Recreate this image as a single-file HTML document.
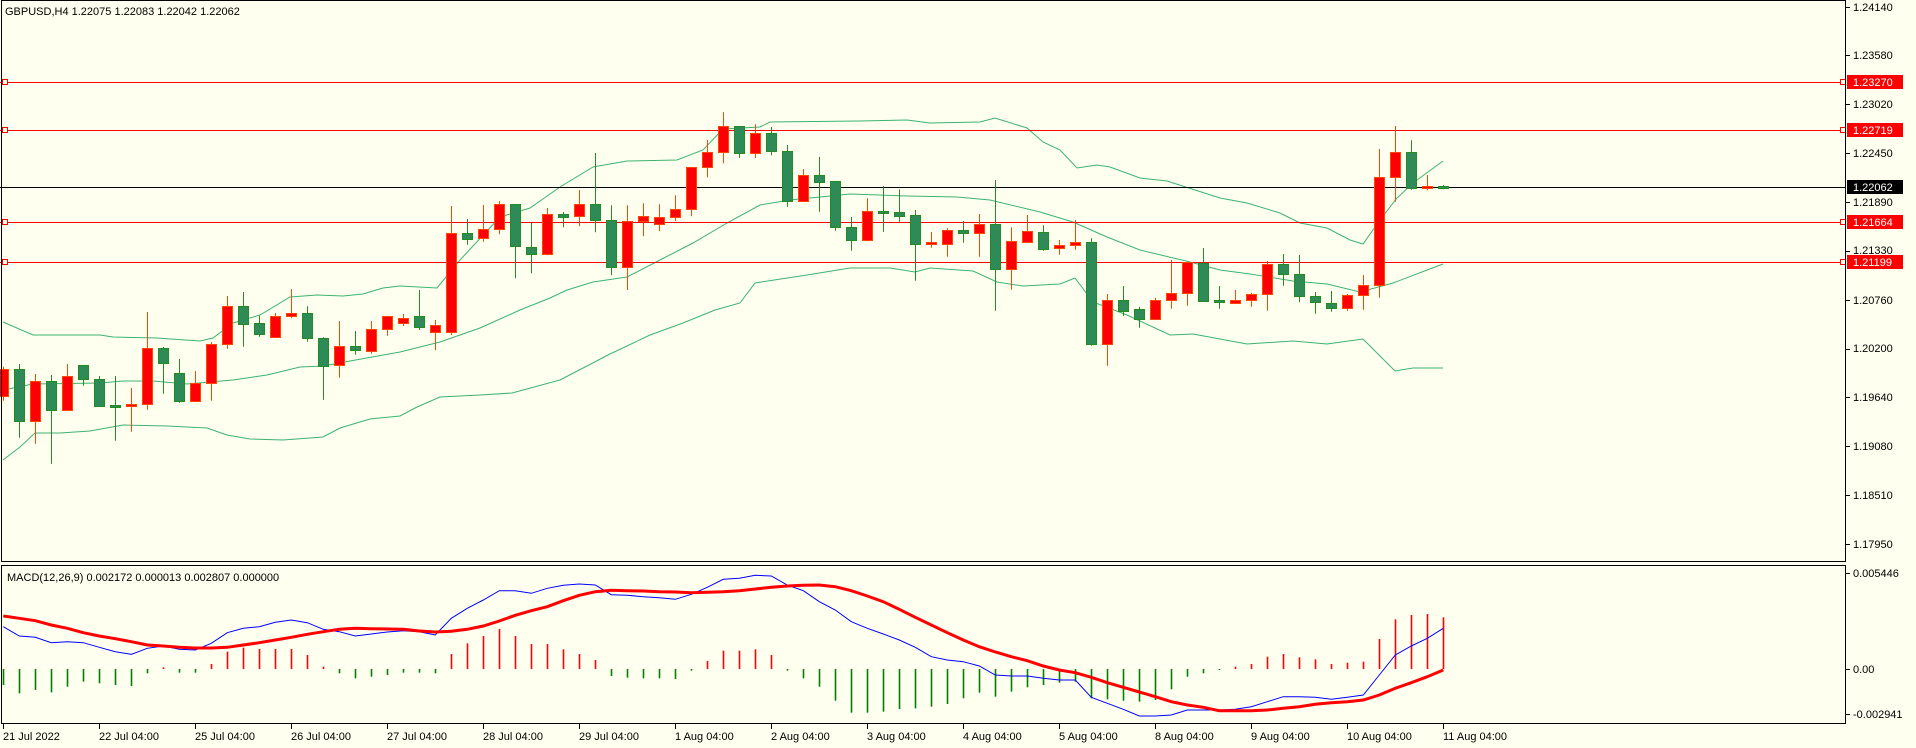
<!DOCTYPE html>
<html><head><meta charset="utf-8"><style>
html,body{margin:0;padding:0;background:#fffff0;}
svg{display:block;font-family:"Liberation Sans",sans-serif;}
</style></head><body>
<svg id="c" width="1916" height="748" xmlns="http://www.w3.org/2000/svg">
<rect x="0" y="0" width="1916" height="748" fill="#fffff0"/>
<g id="bb" fill="none" stroke="#3cb371" stroke-width="1"></g>
<g id="hl"></g>
<g id="cd"></g>
<g id="mc"></g>
<!-- frames -->
<rect x="1.5" y="0.5" width="1844" height="561" fill="none" stroke="#000" stroke-width="1"/>
<rect x="1.5" y="565.5" width="1844" height="158" fill="none" stroke="#000" stroke-width="1"/>
<g font-size="11" fill="#000">
<text x="5" y="15">GBPUSD,H4  1.22075 1.22083 1.22042 1.22062</text>
<text x="7" y="581">MACD(12,26,9) 0.002172 0.000013 0.002807 0.000000</text>
</g>
<g font-size="11" fill="#000" id="ax">
<text x="1853" y="11">1.24140</text>
<text x="1853" y="59">1.23580</text>
<text x="1853" y="108">1.23020</text>
<text x="1853" y="157">1.22450</text>
<text x="1853" y="206">1.21890</text>
<text x="1853" y="254">1.21330</text>
<text x="1853" y="304">1.20760</text>
<text x="1853" y="352">1.20200</text>
<text x="1853" y="401">1.19640</text>
<text x="1853" y="450">1.19080</text>
<text x="1853" y="499">1.18510</text>
<text x="1853" y="548">1.17950</text>
<text x="1853" y="577">0.005446</text>
<text x="1853" y="673">0.00</text>
<text x="1853" y="718">-0.002941</text>
</g>
<g font-size="11">
<rect x="1847" y="75" width="56" height="14" fill="#ff0000"/><text x="1853" y="86" fill="#fff">1.23270</text>
<rect x="1847" y="123" width="56" height="14" fill="#ff0000"/><text x="1853" y="134" fill="#fff">1.22719</text>
<rect x="1847" y="180" width="56" height="14" fill="#000"/><text x="1853" y="191" fill="#fff">1.22062</text>
<rect x="1847" y="215" width="56" height="14" fill="#ff0000"/><text x="1853" y="226" fill="#fff">1.21664</text>
<rect x="1847" y="255" width="56" height="14" fill="#ff0000"/><text x="1853" y="266" fill="#fff">1.21199</text>
</g>
<g font-size="11" fill="#000">
<text x="3" y="740">21 Jul 2022</text>
<text x="99" y="740">22 Jul 04:00</text>
<text x="195" y="740">25 Jul 04:00</text>
<text x="291" y="740">26 Jul 04:00</text>
<text x="387" y="740">27 Jul 04:00</text>
<text x="483" y="740">28 Jul 04:00</text>
<text x="579" y="740">29 Jul 04:00</text>
<text x="675" y="740">1 Aug 04:00</text>
<text x="771" y="740">2 Aug 04:00</text>
<text x="867" y="740">3 Aug 04:00</text>
<text x="963" y="740">4 Aug 04:00</text>
<text x="1059" y="740">5 Aug 04:00</text>
<text x="1155" y="740">8 Aug 04:00</text>
<text x="1251" y="740">9 Aug 04:00</text>
<text x="1347" y="740">10 Aug 04:00</text>
<text x="1443" y="740">11 Aug 04:00</text>
</g>
<g id="tk" stroke="#000"></g>
</svg>
<script>
var NS="http://www.w3.org/2000/svg";
function el(p,t,a){var e=document.createElementNS(NS,t);for(var k in a)e.setAttribute(k,a[k]);p.appendChild(e);return e;}
var bb=document.getElementById('bb');
function pl(pts){el(bb,'polyline',{points:pts.map(function(p){return p.join(',')}).join(' ')});}
pl([[3,322],[33,335],[100,335],[113,337],[157,338],[200,341],[213,338],[233,323],[260,315],[290,297],[317,295],[343,296],[363,294],[383,288],[400,286],[437,288],[460,260],[500,217],[530,208],[560,187],[593,167],[627,161],[677,160],[703,150],[723,129],[760,127],[770,122],[860,121],[907,120],[930,123],[980,122],[995,118],[1027,128],[1043,142],[1060,150],[1077,168],[1097,165],[1110,167],[1140,178],[1167,181],[1220,198],[1247,203],[1280,213],[1300,223],[1327,228],[1350,240],[1363,244],[1380,220],[1397,198],[1413,183],[1443,161]]);
pl([[3,390],[33,384],[100,383],[123,381],[153,381],[187,384],[233,380],[267,375],[300,367],[323,366],[350,361],[400,352],[440,342],[480,328],[520,310],[550,298],[567,290],[593,282],[627,277],[660,260],[693,243],[727,223],[760,205],[790,200],[850,194],[907,196],[957,197],[990,200],[1040,212],[1073,222],[1107,237],[1140,250],[1190,262],[1220,270],[1250,274],[1293,281],[1327,284],[1360,292],[1393,283],[1443,264]]);
pl([[3,460],[20,447],[35,433],[60,433],[90,431],[123,425],[167,426],[207,428],[227,435],[250,439],[283,440],[323,437],[340,428],[370,419],[400,416],[417,407],[440,397],[480,395],[512,393],[560,380],[610,354],[650,335],[683,323],[715,310],[740,303],[755,283],[807,275],[850,268],[890,268],[915,272],[930,268],[973,271],[997,282],[1023,286],[1060,284],[1075,278],[1093,302],[1127,315],[1170,335],[1193,334],[1247,344],[1293,341],[1327,344],[1363,339],[1395,371],[1413,368],[1443,368]]);
var hl=document.getElementById('hl');
[[82,'#ff0000'],[130,'#ff0000'],[222,'#ff0000'],[262,'#ff0000'],[187,'#000']].forEach(function(h){
 el(hl,'line',{x1:0,x2:1846,y1:h[0]+0.5,y2:h[0]+0.5,stroke:h[1],'stroke-width':1});
 if(h[1]!='#000'){el(hl,'rect',{x:2.5,y:h[0]-2.5,width:5,height:5,fill:'#fffff0',stroke:'#ff0000'});
 el(hl,'rect',{x:1840.5,y:h[0]-2.5,width:5,height:5,fill:'#fffff0',stroke:'#ff0000'});}
});
var C=[[366.7,369.3,396,400.7,'r'],[364,369.3,421.3,437.7,'g'],[374,381.3,421.3,443.7,'r'],[375,381.3,410.3,463.7,'g'],[364,376.3,410.3,410.3,'r'],[365,365.3,379.3,385.7,'g'],[376,379.3,405.7,406.7,'g'],[376,405,406.5,440.7,'g'],[388,404.3,406.3,431.7,'r'],[312,348.3,404.3,409.7,'r'],[347,348.3,362.7,393.7,'g'],[359,373.3,400.7,402.7,'g'],[371,383.3,400.7,401.7,'r'],[342,344.3,383.3,400.7,'r'],[296,306.3,344.3,348.7,'r'],[292,306.3,323.7,346.7,'g'],[315.7,323.3,334.3,336.7,'g'],[313,316.3,336.7,337.3,'r'],[289,313.3,316.3,318.3,'r'],[306.3,313.3,338.3,341.7,'g'],[337.3,338.3,365.7,399.7,'g'],[321,346.3,365.3,377.7,'r'],[331,346.3,350.3,354.7,'g'],[321,329.3,351.3,353.7,'r'],[316,316.3,329.3,335.7,'r'],[314,318,323,326,'r'],[290,316,327,330,'g'],[320,325,332,350,'r'],[206,233.3,332,335,'r'],[219,233.3,238.7,244.7,'g'],[205,229.3,238.3,241.7,'r'],[201,204.3,229.3,234.3,'r'],[204,204.3,246.3,278.3,'g'],[222.7,247.3,254.3,273.3,'g'],[208,214.3,254.3,255.3,'r'],[212,214.3,217.3,227.3,'g'],[190,204.3,216.3,226.3,'r'],[153,204.3,220.3,232.3,'g'],[205.3,220.3,267.3,275.3,'g'],[205.3,221.3,267.3,290,'r'],[203.3,216.3,221.3,236.3,'r'],[204.3,217.3,224.3,231.3,'r'],[195.3,209,217.3,221.3,'r'],[167.3,167.3,209.3,216.3,'r'],[140,152.3,167.3,177.3,'r'],[112.3,126.3,152.3,163.3,'r'],[126,126.3,153.3,157.7,'g'],[124.3,133.3,153.3,158.3,'r'],[127,133.3,151.3,155.3,'g'],[145,151.3,201.3,206.7,'g'],[169,175,201.3,202,'r'],[157,175,181.7,211.7,'g'],[181,181.3,226.7,230.7,'g'],[217,227.3,240.3,250.7,'g'],[198.3,211,240.3,241.3,'r'],[186,211,212.7,231.7,'g'],[189.3,212,215.7,221.7,'g'],[210,215.3,243.7,280.7,'g'],[232,242,243.7,247.7,'r'],[228.3,230,244.3,256.7,'r'],[221,230,232.7,242.7,'g'],[214,224.3,232.7,256.7,'r'],[180,224.3,269.3,310.7,'g'],[227.3,241,269.3,289.7,'r'],[215,231,241.7,242.5,'r'],[225.3,232,248.7,250.7,'g'],[240,245.3,248.3,254.7,'r'],[220,242,245.3,249.7,'r'],[238.3,242.3,344.3,345.7,'g'],[294,300.3,344.3,365.7,'r'],[286,300.3,311.3,316,'g'],[306.7,309.3,319.3,327.7,'g'],[297.7,300.3,319.3,320,'r'],[260,293.3,300.3,308.7,'r'],[261.7,261.7,293.3,305.7,'r'],[248,263.3,300.7,301.7,'g'],[286,300.3,301.7,308.7,'g'],[290,300.3,302.7,303.3,'r'],[292.7,294,300.3,306.7,'r'],[261,264.3,294.3,310.7,'r'],[254,264.3,274.3,285.7,'g'],[255,274.3,296.3,302.3,'g'],[292,296.3,302.3,313.7,'g'],[291,303.3,308.3,311.7,'g'],[294,295.3,308.3,310.7,'r'],[275,285.3,295.3,309.7,'r'],[149,177.3,285.3,297.7,'r'],[126,152.3,177.3,201.7,'r'],[140.3,152.3,188.3,189.7,'g'],[175,186.3,188.3,190.3,'r'],[185,186.3,187.3,189.3,'g']];
var cd=document.getElementById('cd');
C.forEach(function(c,n){
 var x=Math.round(3.3+16*n);var r=c[4]=='r';
 var wc=r?'#ff4500':'#228b22',fc=r?'#ff0000':'#2e8b57';
 el(cd,'line',{x1:x+0.5,x2:x+0.5,y1:c[0],y2:c[3],stroke:wc,'stroke-width':1});
 var t=Math.round(c[1]),b=Math.round(c[2]);if(b-t<2)b=t+2;
 el(cd,'rect',{x:x-4.5,y:t+0.5,width:10,height:b-t,fill:fc,stroke:wc,'stroke-width':1});
});
var mc=document.getElementById('mc');
var H=[375,400,390,397,380,365,370,375,378,340,322,338,338,312,275,263,267,267,267,285,320,340,355,350,345,338,338,340,282,250,228,207,228,252,252,268,282,300,348,353,355,355,357,332,303,272,272,268,285,332,355,380,422,458,458,455,447,445,440,432,415,398,410,395,382,375,368,365,415,418,422,425,420,388,350,340,330,320,312,290,282,292,298,312,308,305,237,178,165,162,172];
H.forEach(function(z,n){var x=Math.round(3.3+16*n)+0.5;var y=560+z/3;
 el(mc,'line',{x1:x,x2:x,y1:669,y2:y,stroke:z<327?'#ff0000':'#008000','stroke-width':1.6});});
function zl(a,col,w){var s=[];for(var i=0;i<a.length;i+=2)s.push((a[i]/1.06).toFixed(1)+','+(560+a[i+1]/3).toFixed(1));
 el(mc,'polyline',{points:s.join(' '),fill:'none',stroke:col,'stroke-width':w});}
var zx=[];for(var n=0;n<91;n++)zx.push(3.5+16.96*n);
var BL=[200,228,232,248,245,248,262,275,283,265,258,268,270,250,218,205,200,187,180,188,208,215,228,222,216,212,215,225,175,145,120,92,92,100,85,76,72,75,104,106,110,113,118,103,82,58,55,46,48,75,92,125,150,185,205,222,240,262,290,300,305,318,345,348,348,355,360,360,412,430,448,468,468,465,450,450,450,448,440,425,410,410,412,418,412,405,345,285,258,235,205];
var SG=[168,175,182,195,205,218,228,236,245,255,258,262,264,264,262,255,248,240,232,223,215,208,205,206,207,208,213,216,214,208,198,183,166,152,140,122,106,95,91,92,93,95,96,98,97,95,92,87,82,78,76,75,80,92,108,125,148,172,195,218,240,260,276,290,302,318,330,338,352,368,382,396,410,425,435,442,452,452,452,450,445,440,433,428,425,420,405,385,368,350,330];
function mk(a){var r=[];a.forEach(function(v,i){r.push(zx[i],v)});return r;}
zl(mk(BL),'#0000ff',1);
zl(mk(SG),'#ff0000',3);
var tk=document.getElementById('tk');
for(var k=0;k<16;k++){var x=3+96*k+0.5;el(tk,'line',{x1:x,x2:x,y1:724,y2:729});}
[7,55,104,153,202,251,300,349,397,446,495,544,573,669,714].forEach(function(y){el(tk,'line',{x1:1846,x2:1850,y1:y+0.5,y2:y+0.5});});
</script>
</body></html>
